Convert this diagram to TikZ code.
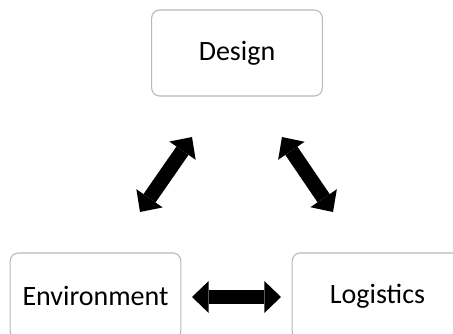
\documentclass[tikz,border=0pt]{standalone}
\usepackage{fontspec}
\setmainfont{Carlito}
\usetikzlibrary{arrows.meta}
\tikzset{
  box/.style={draw=black!28, line width=0.8pt, rounded corners=6pt, fill=white,
    minimum width=128pt, minimum height=64.5pt, inner sep=0pt,
    font=\fontsize{21}{25}\selectfont},
  dblarrow/.style={line width=11pt, black,
    {Triangle[width=24pt,length=12.5pt,line width=0pt]}-{Triangle[width=24pt,length=12.5pt,line width=0pt]}}
}
\begin{document}
\begin{tikzpicture}[x=0.75pt,y=-0.75pt]
\useasboundingbox (0,0) rectangle (453,334);
\clip (0,0) rectangle (453,334);
\fill[white] (0,0) rectangle (453,334);
\node[box] (design) at (237,53) {Design};
\node[box] (env) at (95.5,296) {Environment};
\node[box] (log) at (377.5,296) {Logistics};
\coordinate (a1) at (140,212);
\coordinate (a2) at (192,137);
\coordinate (b1) at (282,137);
\coordinate (b2) at (333,212);
\coordinate (c1) at (192,297);
\coordinate (c2) at (281,297);
\draw[dblarrow] (a1) -- (a2);
\draw[dblarrow] (b1) -- (b2);
\draw[dblarrow] (c1) -- (c2);
\end{tikzpicture}
\end{document}
